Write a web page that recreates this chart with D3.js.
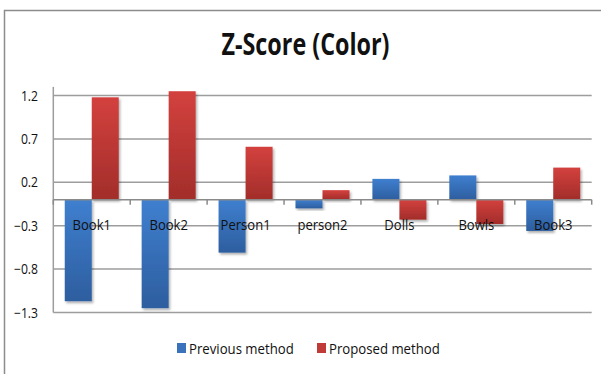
<!DOCTYPE html>
<html>
<head>
<meta charset="utf-8">
<script src="https://cdn.jsdelivr.net/npm/d3@7/dist/d3.min.js"></script>
<style>
  html, body { margin: 0; padding: 0; background: #fff; }
  svg { display: block; }
  text { font-family: "Open Sans", "DejaVu Sans", sans-serif; fill: #111; }
</style>
</head>
<body>
<svg id="chart" width="601" height="374"></svg>
<script>
// Chart data
const categories = ["Book1", "Book2", "Person1", "person2", "Dolls", "Bowls", "Book3"];
const seriesNames = ["Previous method", "Proposed method"];
const previousMethod = [-1.17, -1.25, -0.61, -0.10, 0.24, 0.28, -0.36];
const proposedMethod = [1.18, 1.25, 0.61, 0.11, -0.23, -0.28, 0.37];
const yTicks = [-1.3, -0.8, -0.3, 0.2, 0.7, 1.2];
const title = "Z-Score (Color)";

const seriesValues = [previousMethod, proposedMethod];
const colors = [
  { top: "#3f7fcf", bottom: "#2d5e9f", legend: "#3a72bb" },
  { top: "#d3413e", bottom: "#a22d2a", legend: "#c03a37" }
];

const svg = d3.select("#chart");
const squeeze = 0.87; // condensed text

// Frame of the chart area
svg.append("path")
  .attr("d", "M4.5,374 V10.5 H601")
  .attr("fill", "none")
  .attr("stroke", "#8c8c8c")
  .attr("stroke-width", 1.5);

const plot = { left: 53.3, right: 591.7, top: 86.9, bottom: 312.5 };

const y = d3.scaleLinear().domain([-1.3, 1.3]).range([plot.bottom, plot.top]);
const x = d3.scaleBand().domain(categories).range([plot.left, plot.right]).padding(0);
const xs = d3.scaleBand().domain(d3.range(seriesNames.length))
  .range([0, x.bandwidth()]).paddingInner(0).paddingOuter(0.424);

// Gradients and shadow
const defs = svg.append("defs");
colors.forEach((c, i) => {
  const g = defs.append("linearGradient").attr("id", "grad" + i)
    .attr("x1", 0).attr("y1", 0).attr("x2", 0).attr("y2", 1);
  g.append("stop").attr("offset", "0%").attr("stop-color", c.top);
  g.append("stop").attr("offset", "100%").attr("stop-color", c.bottom);
});
const f = defs.append("filter").attr("id", "shadow")
  .attr("x", "-20%").attr("y", "-20%").attr("width", "150%").attr("height", "150%");
f.append("feDropShadow").attr("dx", 1.5).attr("dy", 2).attr("stdDeviation", 1.2)
  .attr("flood-color", "#000").attr("flood-opacity", 0.3);

// Gridlines
svg.append("g")
  .selectAll("line")
  .data(yTicks)
  .join("line")
  .attr("x1", plot.left).attr("x2", plot.right)
  .attr("y1", d => y(d)).attr("y2", d => y(d))
  .attr("stroke", "#9d9d9d").attr("stroke-width", 1.5);

// Value axis line
svg.append("line")
  .attr("x1", plot.left).attr("x2", plot.left)
  .attr("y1", plot.top).attr("y2", plot.bottom)
  .attr("stroke", "#9d9d9d").attr("stroke-width", 1.5);

// Value tick labels
svg.append("g")
  .selectAll("text")
  .data(yTicks)
  .join("text")
  .attr("transform", d => `translate(38,${y(d) + 5}) scale(${squeeze},1)`)
  .attr("text-anchor", "end")
  .attr("font-size", 14)
  .text(d => d3.format(".1f")(d));

// Bars
const groups = svg.append("g")
  .selectAll("g")
  .data(categories)
  .join("g")
  .attr("transform", d => `translate(${x(d)},0)`);

groups.selectAll("rect")
  .data((d, ci) => seriesValues.map((vals, si) => ({ si, v: vals[ci] })))
  .join("rect")
  .attr("x", d => xs(d.si))
  .attr("width", xs.bandwidth())
  .attr("y", d => y(Math.max(0, d.v)))
  .attr("height", d => Math.abs(y(d.v) - y(0)))
  .attr("fill", d => `url(#grad${d.si})`)
  .attr("filter", "url(#shadow)");

// Category axis at zero
svg.append("line")
  .attr("x1", plot.left).attr("x2", plot.right)
  .attr("y1", y(0)).attr("y2", y(0))
  .attr("stroke", "#8a8a8a").attr("stroke-width", 1.5);

svg.append("g")
  .selectAll("line")
  .data(categories.map((c, i) => i).concat([categories.length]))
  .join("line")
  .attr("x1", i => plot.left + i * x.step())
  .attr("x2", i => plot.left + i * x.step())
  .attr("y1", y(0)).attr("y2", y(0) + 5)
  .attr("stroke", "#8a8a8a").attr("stroke-width", 1.5);

// Category labels
svg.append("g")
  .selectAll("text")
  .data(categories)
  .join("text")
  .attr("transform", d => `translate(${x(d) + x.bandwidth() / 2},229.5) scale(${squeeze},1)`)
  .attr("text-anchor", "middle")
  .attr("font-size", 15)
  .text(d => d);

// Title
svg.append("text")
  .attr("x", 221.5).attr("y", 55)
  .attr("font-size", 30)
  .attr("font-weight", "bold")
  .attr("fill", "#000")
  .attr("textLength", 168)
  .attr("lengthAdjust", "spacingAndGlyphs")
  .text(title);

// Legend
const legendX = [177, 317];
const legend = svg.append("g")
  .selectAll("g")
  .data(seriesNames)
  .join("g")
  .attr("transform", (d, i) => `translate(${legendX[i]},343)`);
legend.append("rect")
  .attr("width", 9).attr("height", 10)
  .attr("fill", (d, i) => colors[i].legend);
legend.append("text")
  .attr("transform", `translate(12,11) scale(${squeeze + 0.01},1)`)
  .attr("font-size", 15)
  .text(d => d);
</script>
</body>
</html>
